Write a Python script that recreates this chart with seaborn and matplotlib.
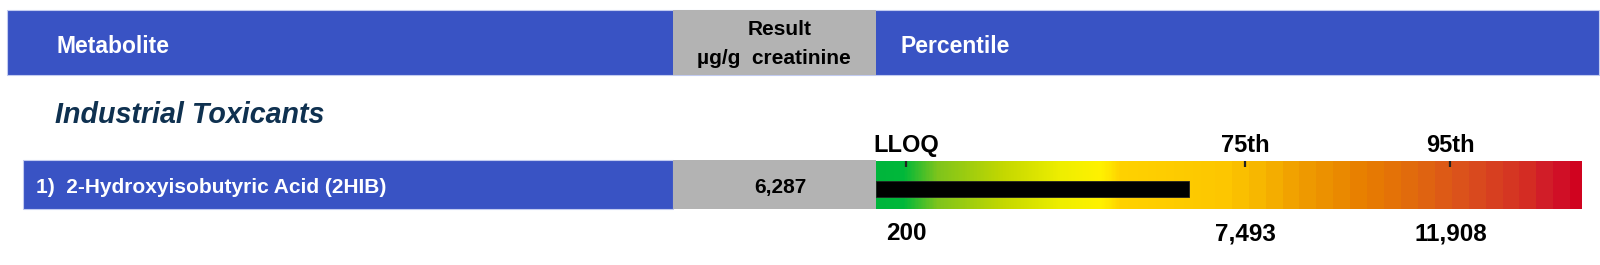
import numpy as np
import matplotlib
matplotlib.use("Agg")
import matplotlib.pyplot as plt
from matplotlib.patches import Rectangle
from matplotlib.colors import LinearSegmentedColormap
import seaborn as sns
import pandas as pd

# ---------------- data ----------------
section_title = "Industrial Toxicants"
categories = ["1)  2-Hydroxyisobutyric Acid (2HIB)"]
results = [6287]
result_labels = ["6,287"]
percentile_names = ["LLOQ", "75th", "95th"]
percentile_values = [200, 7493, 11908]
percentile_labels = ["200", "7,493", "11,908"]
header_labels = ["Metabolite", "Result\n\u00b5g/g  creatinine", "Percentile"]

# ---------------- style ----------------
sns.set_theme(style="white")
plt.rcParams["font.family"] = ["Liberation Sans", "DejaVu Sans"]

BLUE = "#3953c4"
GRAY = "#b3b3b3"
NAVY = "#0f3150"
EDGE = "#c2cbf0"

W, H = 1600, 265
fig = plt.figure(figsize=(W / 100, H / 100), dpi=100)
ax0 = fig.add_axes([0, 0, 1, 1])
ax0.set_xlim(0, W)
ax0.set_ylim(H, 0)
ax0.axis("off")


def px_axes(x0, x1, y0, y1):
    return [x0 / W, 1 - y1 / H, (x1 - x0) / W, (y1 - y0) / H]


# header band
ax0.add_patch(Rectangle((7, 10), 1592, 65, fc=BLUE, ec=EDGE, lw=0.8))
ax0.add_patch(Rectangle((673, 10), 203, 65, fc=GRAY, ec="none"))
ax0.text(56, 53, header_labels[0], color="white", fontsize=16.5,
         fontweight="bold", va="baseline", ha="left")
r1, r2 = header_labels[1].split("\n")
ax0.text(780, 35, r1, color="black", fontsize=15, fontweight="bold",
         va="baseline", ha="center")
ax0.text(774, 64, r2, color="black", fontsize=15, fontweight="bold",
         va="baseline", ha="center")
ax0.text(900, 53, header_labels[2], color="white", fontsize=16.5,
         fontweight="bold", va="baseline", ha="left")

# section title
ax0.text(55, 123, section_title, color=NAVY, fontsize=20.6, fontweight="bold",
         fontstyle="italic", va="baseline", ha="left")

# row
ax0.add_patch(Rectangle((23, 160), 650, 49, fc=BLUE, ec=EDGE, lw=0.8))
ax0.add_patch(Rectangle((673, 160), 203, 49, fc=GRAY, ec="none"))
ax0.text(36, 193, categories[0], color="white", fontsize=15,
         fontweight="bold", va="baseline", ha="left")
ax0.text(780, 193, result_labels[0], color="black", fontsize=15,
         fontweight="bold", va="baseline", ha="center")

# ---------------- gradient percentile bar ----------------
ax = fig.add_axes(px_axes(876, 1582, 161, 209))
XMIN, XMAX = -445, 14736

stops = [
    (0.000, "#00b53c"), (0.038, "#00b83a"), (0.086, "#7ec41c"),
    (0.180, "#c4d800"), (0.260, "#eeee00"), (0.317, "#fff200"),
    (0.330, "#ffe600"), (0.345, "#ffd200"), (0.500, "#fdc600"),
    (0.544, "#f7b600"), (0.600, "#f09e00"), (0.686, "#e88000"),
    (0.756, "#e26c0c"), (0.841, "#da4e1e"), (0.926, "#d42c24"),
    (0.960, "#d0162a"), (1.000, "#d0021e"),
]
cmap = LinearSegmentedColormap.from_list("pct", stops, N=512)
pos = np.linspace(0, 1, 706)
band = 0.024
stepped = np.where(pos > 0.47, np.floor(pos / band) * band + band / 2, pos)
stepped = np.clip(stepped, 0, 1)
ax.imshow(stepped[None, :], cmap=cmap, vmin=0, vmax=1, aspect="auto",
          extent=(XMIN, XMAX, 0.417, -0.583), interpolation="nearest", zorder=0)

df = pd.DataFrame({"metabolite": categories, "result": results})
sns.barplot(data=df, x="result", y="metabolite", orient="h", color="black",
            width=0.333, ax=ax, zorder=2, saturation=1)
ax.set_xlim(XMIN, XMAX)
ax.set_ylim(0.417, -0.583)
for p in ax.patches:
    p.set_edgecolor("#222222")
    p.set_linewidth(0.6)
    right = p.get_x() + p.get_width()
    p.set_x(XMIN)
    p.set_width(right - XMIN)

# percentile ticks
ax.vlines(percentile_values, 0.875, 1.0, transform=ax.get_xaxis_transform(),
          color="#222222", lw=1.6, zorder=3)

for v, name, lab in zip(percentile_values, percentile_names, percentile_labels):
    ax.text(v, (209 - 152) / 48, name, transform=ax.get_xaxis_transform(),
            ha="center", va="baseline", fontsize=17, fontweight="bold",
            color="black", clip_on=False)
    ax.text(v, -(240 - 209) / 48, lab, transform=ax.get_xaxis_transform(),
            ha="center", va="baseline", fontsize=17.5, fontweight="bold",
            color="black", clip_on=False)

ax.set_xlabel("")
ax.set_ylabel("")
ax.set_xticks([])
ax.set_yticks([])
for s in ax.spines.values():
    s.set_visible(False)

fig.savefig("out.png", dpi=100)
